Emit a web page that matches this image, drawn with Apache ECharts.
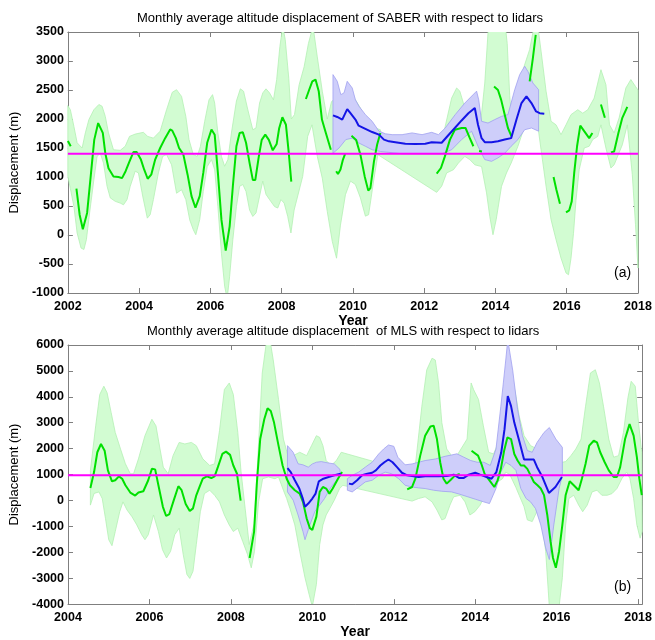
<!DOCTYPE html>
<html><head><meta charset="utf-8">
<script src="https://cdn.jsdelivr.net/npm/echarts@6/dist/echarts.min.js"></script>
<style>html,body{margin:0;padding:0;background:#fff}#c{width:655px;height:640px}</style>
</head><body><div id="c"></div>
<script>
// ---------- Panel (a): SABER ----------
const saberTitle = 'Monthly average altitude displacement of SABER with respect to lidars';
const saberRef = 1400;
const saberGreen = [
[2002.00,1620],[2002.08,1530],null,
[2002.24,800],[2002.33,350],[2002.42,100],[2002.54,380],[2002.65,1070],[2002.74,1640],[2002.85,1930],[2002.98,1760],[2003.05,1410],[2003.14,1150],[2003.28,1010],[2003.42,1000],[2003.52,980],[2003.62,1100],[2003.73,1270],[2003.84,1430],[2003.93,1430],[2004.05,1300],[2004.14,1130],[2004.24,970],[2004.34,1040],[2004.45,1300],[2004.59,1500],[2004.73,1670],[2004.87,1820],[2004.93,1800],[2005.03,1670],[2005.12,1500],[2005.24,1390],[2005.36,1040],[2005.47,670],[2005.58,470],[2005.70,670],[2005.80,1070],[2005.91,1590],[2006.03,1820],[2006.12,1730],[2006.21,1070],[2006.31,260],[2006.43,-270],[2006.54,150],[2006.63,840],[2006.73,1530],[2006.82,1760],[2006.91,1770],[2007.00,1590],[2007.10,1240],[2007.19,950],[2007.26,950],[2007.36,1360],[2007.44,1640],[2007.54,1730],[2007.64,1640],[2007.75,1460],[2007.86,1570],[2007.93,1840],[2008.02,2030],[2008.12,1900],[2008.20,1410],[2008.27,920],null,
[2008.68,2345],[2008.77,2500],[2008.86,2650],[2008.95,2680],[2009.04,2480],[2009.13,1990],[2009.24,1760],[2009.38,1470],null,
[2009.53,1100],[2009.58,1050],[2009.65,1130],[2009.72,1300],[2009.78,1400],null,
[2009.96,1710],[2010.09,1640],[2010.21,1385],[2010.33,1010],[2010.43,765],[2010.49,810],[2010.59,1270],[2010.68,1560],[2010.77,1760],null,
[2012.35,1060],[2012.47,1155],[2012.58,1355],[2012.72,1640],[2012.86,1815],[2013.05,1845],[2013.16,1845],[2013.28,1670],[2013.38,1530],null,
[2013.54,1450],[2013.62,1440],null,
[2013.96,2560],[2014.07,2500],[2014.16,2330],[2014.26,2075],[2014.35,1845],[2014.45,1700],null,
[2014.96,2650],[2015.05,3050],[2015.13,3450],null,
[2015.63,1000],[2015.71,780],[2015.81,540],null,
[2015.98,390],[2016.07,425],[2016.14,580],[2016.21,1070],[2016.29,1530],[2016.38,1885],[2016.49,1790],[2016.63,1670],[2016.72,1760],null,
[2016.96,2250],[2017.07,2020],null,
[2017.24,1425],[2017.33,1440],[2017.45,1760],[2017.56,2020],[2017.70,2210]
];
const saberBlue = [
[2009.44,2063],[2009.56,2035],[2009.70,1990],[2009.84,2170],[2009.93,2100],[2010.07,1990],[2010.16,1885],[2010.35,1830],[2010.54,1775],[2010.73,1730],[2010.87,1645],[2011.01,1615],[2011.19,1600],[2011.47,1575],[2011.75,1570],[2012.03,1575],[2012.21,1600],[2012.49,1590],[2012.67,1715],[2012.86,1845],[2013.05,1975],[2013.24,2100],[2013.42,2190],[2013.51,1900],[2013.61,1670],[2013.70,1600],[2013.89,1600],[2014.07,1615],[2014.26,1645],[2014.44,1670],[2014.59,1990],[2014.73,2275],[2014.87,2390],[2015.01,2275],[2015.14,2130],[2015.24,2100],[2015.37,2090]
];
const saberBlueUp = [
[2009.44,2765],[2009.56,2650],[2009.66,2420],[2009.75,2450],[2009.84,2650],[2009.98,2535],[2010.07,2330],[2010.17,2220],[2010.35,2075],[2010.54,1960],[2010.73,1790],[2010.91,1745],[2011.10,1730],[2011.38,1730],[2011.66,1760],[2011.94,1730],[2012.21,1770],[2012.40,1730],[2012.59,1845],[2012.87,2075],[2013.14,2275],[2013.47,2480],[2013.53,2330],[2013.61,1960],[2013.79,1930],[2013.98,1990],[2014.17,2045],[2014.35,2075],[2014.54,2505],[2014.68,2765],[2014.82,2910],[2014.91,2820],[2015.05,2620],[2015.21,2505]
];
const saberBlueLo = [
[2009.44,1410],[2009.61,1500],[2009.80,1645],[2009.98,1670],[2010.17,1585],[2010.35,1530],[2010.54,1470],[2010.77,1440],[2011.01,1425],[2011.38,1400],[2011.75,1400],[2012.12,1400],[2012.49,1400],[2012.77,1470],[2013.05,1645],[2013.33,1790],[2013.51,1530],[2013.70,1300],[2013.89,1270],[2014.07,1330],[2014.26,1410],[2014.44,1530],[2014.63,1645],[2014.82,1815],[2015.01,1845],[2015.21,1790]
];
const saberGreenUp = [
[2002.00,2230],[2002.07,2160],[2002.17,1870],[2002.26,1590],[2002.40,1500],[2002.49,1760],[2002.59,1990],[2002.73,2160],[2002.87,2250],[2002.96,2220],[2003.05,2045],[2003.14,1760],[2003.28,1470],[2003.47,1460],[2003.61,1530],[2003.73,1700],[2003.89,1740],[2004.12,1770],[2004.24,1700],[2004.40,1670],[2004.59,1790],[2004.77,2160],[2004.93,2460],[2005.05,2505],[2005.19,2390],[2005.31,2045],[2005.40,1645],[2005.52,1385],[2005.63,1355],[2005.72,1530],[2005.84,1960],[2005.96,2330],[2006.06,2420],[2006.12,2275],[2006.21,1760],[2006.31,1355],[2006.40,1185],[2006.49,1300],[2006.59,1760],[2006.73,2310],[2006.84,2520],[2006.93,2480],[2007.05,2160],[2007.19,1815],[2007.28,1845],[2007.38,2275],[2007.47,2450],[2007.56,2520],[2007.66,2450],[2007.77,2330],[2007.86,2680],[2007.95,3250],[2008.03,3600],[2008.10,3370],[2008.20,2700],[2008.27,2000],[2008.36,2075],[2008.49,2590],[2008.63,2900],[2008.75,3300],[2008.88,3600],[2009.00,3070],[2009.14,2480],[2009.28,2000],[2009.40,2300],[2009.60,2400],[2009.80,2300],[2010.00,2400],[2010.20,2200],[2010.40,1900],[2010.60,1850],[2010.77,1815],[2010.90,1450],[2011.00,1420],[2012.35,1410],[2012.45,1500],[2012.59,1875],[2012.77,2360],[2012.91,2535],[2013.00,2480],[2013.14,2190],[2013.28,1900],[2013.42,1645],[2013.56,1790],[2013.70,2620],[2013.79,3480],[2013.84,3700],[2014.26,3700],[2014.33,3300],[2014.40,2400],[2014.47,1900],[2014.60,2300],[2014.80,2900],[2014.96,3200],[2015.10,3650],[2015.20,3550],[2015.28,3170],[2015.42,2480],[2015.56,1960],[2015.70,1900],[2015.84,1730],[2015.98,1900],[2016.12,2075],[2016.31,2160],[2016.45,2100],[2016.59,2160],[2016.77,2360],[2016.96,2850],[2017.10,2590],[2017.20,1900],[2017.33,1760],[2017.47,2020],[2017.66,2535],[2017.80,2680],[2017.93,2560],[2018.00,2500]
];
const saberGreenLo = [
[2002.00,1010],[2002.07,800],[2002.17,490],[2002.26,35],[2002.37,-225],[2002.45,-250],[2002.52,-80],[2002.61,380],[2002.73,955],[2002.82,1355],[2002.91,1410],[2003.00,1240],[2003.10,840],[2003.19,640],[2003.33,580],[2003.47,550],[2003.56,520],[2003.66,610],[2003.75,840],[2003.89,1100],[2003.98,1070],[2004.10,670],[2004.23,290],[2004.31,350],[2004.40,610],[2004.54,1070],[2004.66,1355],[2004.77,1385],[2004.91,1210],[2005.05,720],[2005.19,780],[2005.31,610],[2005.42,260],[2005.52,90],[2005.59,5],[2005.70,265],[2005.80,750],[2005.91,1180],[2006.03,1300],[2006.12,1125],[2006.21,490],[2006.31,-315],[2006.40,-885],[2006.47,-1100],[2006.54,-710],[2006.63,-80],[2006.73,490],[2006.82,840],[2006.91,870],[2007.00,750],[2007.10,430],[2007.19,320],[2007.28,380],[2007.38,670],[2007.47,930],[2007.56,700],[2007.66,610],[2007.80,490],[2007.89,465],[2007.98,610],[2008.07,550],[2008.17,320],[2008.26,35],[2008.35,430],[2008.59,1010],[2008.73,1700],[2008.85,1900],[2009.00,1355],[2009.14,980],[2009.28,405],[2009.42,-110],[2009.54,-400],[2009.65,170],[2009.79,695],[2009.93,930],[2010.07,870],[2010.21,640],[2010.35,325],[2010.44,350],[2010.58,930],[2010.70,1385],[2012.35,735],[2012.49,840],[2012.63,1070],[2012.82,1125],[2012.96,1240],[2013.14,1355],[2013.28,1300],[2013.42,1210],[2013.61,1180],[2013.75,725],[2013.84,320],[2013.93,5],[2014.02,265],[2014.17,840],[2014.31,1070],[2014.44,1240],[2014.63,1530],[2014.82,1875],[2014.96,2220],[2015.10,2330],[2015.19,1875],[2015.28,1470],[2015.42,840],[2015.56,265],[2015.70,-80],[2015.84,-400],[2015.98,-655],[2016.05,-685],[2016.12,-400],[2016.19,30],[2016.26,600],[2016.35,1125],[2016.49,1500],[2016.63,1530],[2016.73,1645],[2016.87,1700],[2016.96,1900],[2017.10,1500],[2017.24,1155],[2017.33,1210],[2017.56,1555],[2017.70,1900],[2017.84,1040],[2017.93,175],[2018.00,-570]
];

// ---------- Panel (b): MLS ----------
const mlsTitle = 'Monthly average altitude displacement  of MLS with respect to lidars';
const mlsRef = 970;
const mlsGreen = [
[2004.55,480],[2004.64,1095],[2004.72,1860],[2004.81,2180],[2004.90,1920],[2004.98,1160],[2005.08,740],[2005.16,780],[2005.25,930],[2005.33,840],[2005.41,585],[2005.53,305],[2005.65,190],[2005.73,305],[2005.85,355],[2005.97,780],[2006.06,1220],[2006.14,1200],[2006.22,585],[2006.33,-245],[2006.41,-600],[2006.49,-525],[2006.59,-25],[2006.71,550],[2006.79,395],[2006.89,-140],[2006.99,-410],[2007.07,-305],[2007.15,200],[2007.23,520],[2007.31,840],[2007.41,930],[2007.52,865],[2007.60,930],[2007.68,1285],[2007.79,1795],[2007.88,1885],[2007.98,1760],[2008.06,1350],[2008.15,1030],[2008.24,-10],null,
[2008.46,-2220],[2008.57,-1200],[2008.64,713],[2008.72,2370],[2008.82,3135],[2008.90,3555],[2008.98,3450],[2009.06,3005],[2009.17,2115],[2009.27,1350],[2009.37,840],[2009.45,585],[2009.57,395],[2009.69,265],[2009.77,-55],[2009.86,-690],[2009.94,-1070],[2010.00,-1135],[2010.10,-625],[2010.18,330],[2010.26,520],[2010.34,460],[2010.42,265],[2010.50,460],[2010.63,840],[2010.73,1095],null,
[2012.33,430],[2012.45,520],[2012.53,840],[2012.65,1730],[2012.77,2500],[2012.90,2855],[2012.98,2880],[2013.06,2370],[2013.14,1475],[2013.22,840],[2013.30,650],[2013.40,800],[2013.50,960],[2013.62,1020],null,
[2013.91,1920],[2014.07,1730],[2014.15,1415],[2014.23,1030],[2014.35,775],[2014.47,520],[2014.55,775],[2014.63,1220],[2014.71,1920],[2014.79,2430],[2014.88,2370],[2014.96,1795],[2015.04,1540],[2015.12,1350],[2015.20,1350],[2015.28,1220],[2015.36,970],[2015.44,715],[2015.53,585],[2015.61,460],[2015.69,205],[2015.77,-560],[2015.85,-1580],[2015.91,-2220],[2015.98,-2600],[2016.06,-1960],[2016.14,-945],[2016.22,200],[2016.32,740],[2016.42,585],[2016.54,395],[2016.62,840],[2016.71,1415],[2016.80,2115],[2016.91,2305],[2016.99,2240],[2017.07,1860],[2017.18,1475],[2017.28,1160],[2017.40,905],[2017.48,905],[2017.56,1285],[2017.68,2370],[2017.79,2945],[2017.89,2500],[2017.97,1670],[2018.03,840],[2018.09,205]
];
const mlsBlue = [
[2009.39,1250],[2009.47,1095],[2009.57,780],[2009.68,460],[2009.76,100],[2009.82,-245],[2009.90,-120],[2010.00,75],[2010.08,265],[2010.16,740],[2010.27,840],[2010.40,905],[2010.54,970],[2010.70,1030],null,
[2010.90,650],[2010.98,625],[2011.10,780],[2011.22,970],[2011.35,1030],[2011.47,1070],[2011.56,1160],[2011.67,1350],[2011.77,1475],[2011.87,1580],[2011.97,1475],[2012.08,1285],[2012.20,1070],[2012.33,970],[2012.45,940],[2012.61,905],[2012.77,930],[2012.94,930],[2013.10,930],[2013.30,940],[2013.47,995],[2013.60,870],[2013.72,870],[2013.84,995],[2014.00,1070],[2014.12,995],[2014.28,905],[2014.40,840],[2014.52,1095],[2014.64,1860],[2014.72,2750],[2014.80,4025],[2014.88,3640],[2014.96,3005],[2015.08,2305],[2015.20,1580],[2015.32,1580],[2015.44,1580],[2015.52,1285],[2015.65,905],[2015.81,290],[2015.97,520],[2016.13,905]
];
const mlsBlueUp1 = [[2009.39,2115],[2009.53,1860],[2009.65,1415],[2009.77,1375],[2009.90,1285],[2010.00,1410],[2010.10,1475],[2010.22,1500],[2010.38,1450],[2010.54,1410],[2010.68,1195]];
const mlsBlueLo1 = [[2009.39,330],[2009.53,10],[2009.65,-560],[2009.77,-1200],[2009.82,-1515],[2009.94,-945],[2010.06,-435],[2010.18,-180],[2010.30,75],[2010.46,520],[2010.63,840],[2010.68,970]];
const mlsBlueUp2 = [
[2010.86,840],[2010.98,970],[2011.14,1095],[2011.30,1285],[2011.47,1475],[2011.63,1795],[2011.75,1985],[2011.87,2140],[2012.00,2090],[2012.10,1670],[2012.28,1375],[2012.45,1410],[2012.61,1475],[2012.77,1540],[2013.02,1600],[2013.26,1705],[2013.42,1755],[2013.55,1800],[2013.72,1670],[2013.89,1540],[2014.05,1475],[2014.21,1475],[2014.37,1350],[2014.51,1985],[2014.63,3640],[2014.75,5420],[2014.80,6200],[2014.92,5030],[2015.04,3515],[2015.16,2500],[2015.28,1925],[2015.40,1860],[2015.52,2240],[2015.69,2625],[2015.82,2815],[2015.98,2370],[2016.14,2050]
];
const mlsBlueLo2 = [
[2010.86,395],[2010.98,330],[2011.14,520],[2011.30,715],[2011.47,780],[2011.63,970],[2011.79,1095],[2011.95,1030],[2012.12,840],[2012.28,585],[2012.45,520],[2012.61,485],[2012.77,460],[2012.98,395],[2013.18,355],[2013.42,330],[2013.60,250],[2013.80,150],[2014.00,50],[2014.20,-50],[2014.35,-120],[2014.51,460],[2014.63,1095],[2014.75,1475],[2014.88,1350],[2015.00,1160],[2015.12,460],[2015.25,75],[2015.36,-55],[2015.48,-310],[2015.61,-945],[2015.73,-1835],[2015.82,-2280],[2015.93,-945],[2016.06,460],[2016.14,970]
];
const mlsGreenUp = [
[2004.55,1160],[2004.68,2880],[2004.78,4090],[2004.88,4410],[2004.96,4155],[2005.06,3390],[2005.16,2625],[2005.29,1985],[2005.41,1415],[2005.53,1030],[2005.61,1030],[2005.73,1605],[2005.89,2500],[2006.06,3135],[2006.16,2880],[2006.26,1985],[2006.34,1285],[2006.46,1030],[2006.58,1730],[2006.73,2240],[2006.87,2180],[2007.03,2240],[2007.15,2115],[2007.31,1605],[2007.48,1350],[2007.60,1415],[2007.72,2690],[2007.84,4280],[2007.96,4535],[2008.06,4090],[2008.17,2625],[2008.25,1100],[2008.35,-300],[2008.45,-1700],[2008.57,-900],[2008.66,1600],[2008.77,4920],[2008.88,6200],[2008.96,6200],[2009.04,5425],[2009.17,3900],[2009.29,2370],[2009.41,1670],[2009.53,1730],[2009.69,1860],[2009.86,1730],[2009.98,2115],[2010.10,2500],[2010.18,2435],[2010.26,2115],[2010.34,1540],[2010.46,1350],[2010.59,1540],[2010.71,1860],[2012.28,1160],[2012.40,1300],[2012.53,1350],[2012.69,3640],[2012.81,5040],[2012.94,5490],[2013.02,5420],[2013.10,4535],[2013.18,3005],[2013.30,1985],[2013.42,1730],[2013.55,1730],[2013.80,2370],[2013.90,4535],[2013.96,4280],[2014.08,3900],[2014.20,2880],[2014.33,1860],[2014.45,1795],[2014.57,2240],[2014.71,3640],[2014.83,4535],[2014.92,4665],[2015.00,4025],[2015.08,3260],[2015.20,2500],[2015.36,2115],[2015.53,1985],[2015.69,2115],[2015.85,1985],[2016.00,1700],[2016.14,1475],[2016.22,1500],[2016.35,1730],[2016.47,1985],[2016.60,2370],[2016.71,3640],[2016.83,4920],[2016.95,5045],[2017.05,4535],[2017.15,3640],[2017.28,2370],[2017.40,1670],[2017.52,1730],[2017.64,2625],[2017.75,3960],[2017.83,4600],[2017.93,4410],[2018.01,3005],[2018.09,1860]
];
const mlsGreenLo = [
[2004.55,-180],[2004.64,270],[2004.76,330],[2004.84,75],[2004.92,-690],[2005.00,-1515],[2005.08,-1745],[2005.16,-1200],[2005.27,-435],[2005.35,-55],[2005.45,-370],[2005.57,-625],[2005.69,-945],[2005.81,-1325],[2005.89,-1515],[2005.97,-1325],[2006.10,-560],[2006.22,-1200],[2006.32,-1900],[2006.42,-2220],[2006.52,-1960],[2006.62,-1325],[2006.73,-1070],[2006.83,-2090],[2006.92,-2855],[2006.99,-3010],[2007.07,-2730],[2007.15,-1710],[2007.25,-435],[2007.35,265],[2007.48,395],[2007.60,200],[2007.72,-55],[2007.84,-560],[2007.96,-945],[2008.06,-1200],[2008.17,-1070],[2008.29,-1580],[2008.41,-2090],[2008.50,-2600],[2008.58,-1960],[2008.68,-55],[2008.78,840],[2008.92,905],[2009.08,840],[2009.17,905],[2009.29,395],[2009.37,75],[2009.45,-310],[2009.57,-945],[2009.69,-1960],[2009.82,-2980],[2009.92,-3620],[2010.00,-4100],[2010.10,-3235],[2010.18,-1710],[2010.26,-945],[2010.34,-560],[2010.43,-310],[2010.54,10],[2010.67,460],[2010.75,585],[2012.45,-25],[2012.61,75],[2012.77,140],[2012.94,-55],[2013.06,-370],[2013.18,-750],[2013.26,-700],[2013.38,-180],[2013.47,140],[2013.63,200],[2013.75,-55],[2013.87,-560],[2013.99,-435],[2014.12,-180],[2014.24,200],[2014.35,460],[2014.43,585],[2014.55,715],[2014.67,840],[2014.75,1095],[2014.85,1000],[2015.00,500],[2015.08,200],[2015.20,-245],[2015.28,-750],[2015.40,-815],[2015.53,-370],[2015.65,-945],[2015.73,-1960],[2015.82,-4100],[2016.06,-4100],[2016.14,-2980],[2016.22,-945],[2016.30,75],[2016.42,200],[2016.54,-180],[2016.64,-435],[2016.75,-180],[2016.87,330],[2016.99,395],[2017.11,200],[2017.24,200],[2017.36,265],[2017.48,460],[2017.60,840],[2017.72,1095],[2017.80,840],[2017.89,75],[2017.97,-945],[2018.05,-1455],[2018.10,-1200]
];

// ---------- axes ----------
const saberX = {min:2002, max:2018, interval:2};
const saberY = {min:-1000, max:3500, interval:500};
const mlsX = {min:2004, max:2018.1, interval:2};
const mlsY = {min:-4000, max:6000, interval:1000};

const FONT = '"Liberation Sans", Arial, Helvetica, sans-serif';
const FRAME = '#7f7f7f';
const GREEN = '#00e000', BLUE = '#1414e6', MAGENTA = '#ff00ff';
const GREEN_FILL = 'rgb(210,252,210)', GREEN_EDGE = 'rgb(180,240,180)';
const BLUE_FILL = 'rgb(206,206,250)', BLUE_EDGE = 'rgb(160,160,240)';

const chart = echarts.init(document.getElementById('c'));

function gaps(arr){ return arr.map(p => p ? p : [NaN, NaN]); }
function band(up, lo, xi, yi, fill, edge, z){
  const pts = up.concat(lo.slice().reverse());
  return {type:'custom', xAxisIndex:xi, yAxisIndex:yi, clip:true, silent:true, z:z,
    data: pts,
    renderItem: function(params, api){
      if (params.dataIndex !== 0) return null;
      return {type:'polygon', shape:{points: pts.map(p => api.coord(p))},
        style:{fill:fill, stroke:edge, lineWidth:0.8}};
    }};
}
function line(data, xi, yi, color, width, z){
  return {type:'line', data: gaps(data), xAxisIndex:xi, yAxisIndex:yi, showSymbol:false, symbol:'none',
    connectNulls:false, clip:true, z:z, silent:true, lineStyle:{color:color, width:width}};
}
function xAx(grid, r, pos, main){
  return {gridIndex:grid, type:'value', min:r.min, max:r.max, interval:r.interval, position:pos,
    axisLine:{show:true, onZero:false, lineStyle:{color:FRAME, width:1}},
    axisTick:{show:true, inside:true, length:5, lineStyle:{color:FRAME}},
    axisLabel:{show:main, color:'#000', fontSize:12.5, fontWeight:'bold', fontFamily:FONT, margin:7,
      formatter: v => (Math.abs(v - Math.round(v)) < 1e-6 && Math.round(v) % 2 === 0) ? String(Math.round(v)) : ''},
    splitLine:{show:false},
    name: main ? 'Year' : '', nameLocation:'middle', nameGap:20,
    nameTextStyle:{color:'#000', fontSize:14, fontWeight:'bold', fontFamily:FONT}};
}
function yAx(grid, r, pos, main){
  return {gridIndex:grid, type:'value', min:r.min, max:r.max, interval:r.interval, position:pos,
    axisLine:{show:true, onZero:false, lineStyle:{color:FRAME, width:1}},
    axisTick:{show:true, inside:true, length:5, lineStyle:{color:FRAME}},
    axisLabel:{show:main, color:'#000', fontSize:12.5, fontWeight:'bold', fontFamily:FONT, margin:4,
      formatter: v => String(Math.round(v))},
    splitLine:{show:false},
    name: main ? 'Displacement (m)' : '', nameLocation:'middle', nameGap:36,
    nameTextStyle:{color:'#000', fontSize:13, fontFamily:FONT}};
}

const option = {
  animation:false,
  backgroundColor:'#fff',
  title:[
    {text:saberTitle, left:137, top:12, padding:0, textStyle:{fontSize:13, fontWeight:'normal', color:'#000', fontFamily:FONT}},
    {text:mlsTitle, left:147, top:325, padding:0, textStyle:{fontSize:13, fontWeight:'normal', color:'#000', fontFamily:FONT}}
  ],
  grid:[
    {left:64, right:17, top:32, height:261},
    {left:68, right:8, top:345, height:262}
  ],
  xAxis:[ xAx(0, saberX, 'bottom', true), xAx(0, saberX, 'top', false),
          xAx(1, mlsX, 'bottom', true), xAx(1, mlsX, 'top', false) ],
  yAxis:[ yAx(0, saberY, 'left', true), yAx(0, saberY, 'right', false),
          yAx(1, mlsY, 'left', true), yAx(1, mlsY, 'right', false) ],
  graphic:[
    {type:'text', left:614, top:266, style:{text:'(a)', fontSize:14, fill:'#000', fontFamily:FONT}},
    {type:'text', left:614, top:580, style:{text:'(b)', fontSize:14, fill:'#000', fontFamily:FONT}}
  ],
  series:[
    band(saberGreenUp, saberGreenLo, 0, 0, GREEN_FILL, GREEN_EDGE, 1),
    band(saberBlueUp, saberBlueLo, 0, 0, BLUE_FILL, BLUE_EDGE, 2),
    line(saberGreen, 0, 0, GREEN, 2, 3),
    line(saberBlue, 0, 0, BLUE, 2, 4),
    line([[saberX.min, saberRef],[saberX.max, saberRef]], 0, 0, MAGENTA, 2, 5),
    band(mlsGreenUp, mlsGreenLo, 2, 2, GREEN_FILL, GREEN_EDGE, 1),
    band(mlsBlueUp1, mlsBlueLo1, 2, 2, BLUE_FILL, BLUE_EDGE, 2),
    band(mlsBlueUp2, mlsBlueLo2, 2, 2, BLUE_FILL, BLUE_EDGE, 2),
    line(mlsGreen, 2, 2, GREEN, 2, 3),
    line(mlsBlue, 2, 2, BLUE, 2, 4),
    line([[mlsX.min, mlsRef],[mlsX.max, mlsRef]], 2, 2, MAGENTA, 2, 5)
  ]
};
chart.setOption(option);
</script></body></html>
